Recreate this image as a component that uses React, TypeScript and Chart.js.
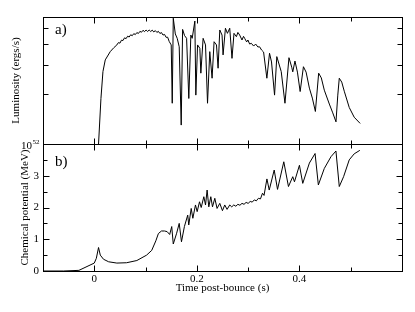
import React, { useEffect, useRef } from "react";
import { Chart, registerables } from "chart.js";

Chart.register(...registerables);

// ---- Data ----
// Panel a) luminosity, in units of 10^52 ergs/s
const timeLum = [
  0.0083, 0.013, 0.0169, 0.0214, 0.0311, 0.038, 0.044, 0.047, 0.05, 0.053,
  0.056, 0.059, 0.062, 0.065, 0.068, 0.071, 0.074, 0.077, 0.08, 0.083,
  0.086, 0.089, 0.092, 0.095, 0.098, 0.101, 0.104, 0.107, 0.11, 0.113,
  0.116, 0.119, 0.122, 0.125, 0.128, 0.131, 0.134, 0.137, 0.14, 0.143,
  0.146, 0.15, 0.152, 0.154, 0.158, 0.1617, 0.1656, 0.1695, 0.1722, 0.176,
  0.18, 0.1843, 0.1883, 0.1909, 0.1961, 0.198, 0.2014, 0.2058, 0.2078, 0.2122,
  0.2169, 0.2208, 0.2252, 0.2297, 0.2336, 0.2383, 0.2414, 0.2447, 0.2491, 0.2511,
  0.2557, 0.2596, 0.2641, 0.2685, 0.2724, 0.2771, 0.28, 0.2835, 0.288, 0.291,
  0.2932, 0.2971, 0.2996, 0.3029, 0.3062, 0.3107, 0.3146, 0.319, 0.3223, 0.3262,
  0.3301, 0.3365, 0.3417, 0.3456, 0.3515, 0.3559, 0.3645, 0.3718, 0.3796, 0.385,
  0.387, 0.3913, 0.3961, 0.4014, 0.4078, 0.413, 0.4194, 0.4252, 0.4311, 0.4375,
  0.4427, 0.4485, 0.4583, 0.465, 0.4713, 0.4748, 0.4777, 0.4825, 0.4874, 0.4971,
  0.5068, 0.5184,
];
const lumE52 = [
  1.0, 1.88, 2.73, 3.21, 3.6, 3.8, 3.95, 4.08, 4.05, 4.22,
  4.2, 4.36, 4.31, 4.46, 4.41, 4.55, 4.49, 4.62, 4.56, 4.69,
  4.63, 4.77, 4.71, 4.84, 4.75, 4.86, 4.76, 4.86, 4.76, 4.85,
  4.73, 4.82, 4.7, 4.77, 4.63, 4.69, 4.53, 4.57, 4.39, 4.4,
  4.15, 3.95, 1.76, 5.72, 4.6, 4.33, 3.85, 1.3, 4.9, 4.5,
  4.33, 1.88, 4.53, 4.33, 5.5, 1.97, 3.95, 3.77, 2.67, 4.33,
  3.95, 1.76, 3.6, 2.49, 4.13, 3.95, 2.86, 4.86, 4.53, 3.44,
  4.98, 4.64, 4.98, 3.28, 4.64, 4.43, 4.7, 4.53, 4.23, 4.45,
  4.33, 4.12, 4.23, 4.0, 4.04, 3.89, 4.0, 3.84, 3.85, 3.68,
  3.58, 2.49, 3.52, 3.12, 1.97, 3.36, 2.73, 1.76, 3.31, 2.9,
  2.72, 3.16, 2.71, 2.07, 2.92, 2.71, 2.17, 1.89, 1.57, 2.67,
  2.5, 2.11, 1.74, 1.54, 1.36, 1.97, 2.49, 2.36, 2.08, 1.66,
  1.45, 1.33,
];

// Panel b) chemical potential (MeV)
const timeMu = [
  -0.1, -0.06, -0.03, 0.0, 0.004, 0.0083, 0.0117, 0.018, 0.028, 0.044,
  0.063, 0.083, 0.102, 0.112, 0.12, 0.125, 0.131, 0.137, 0.142, 0.147,
  0.151, 0.154, 0.1606, 0.1656, 0.17, 0.1757, 0.1822, 0.1842, 0.189, 0.1922,
  0.1973, 0.2006, 0.2052, 0.2085, 0.2136, 0.2169, 0.22, 0.2233, 0.2272, 0.2305,
  0.235, 0.2394, 0.2447, 0.2499, 0.2544, 0.2589, 0.2641, 0.268, 0.272, 0.276,
  0.28, 0.284, 0.288, 0.292, 0.296, 0.3, 0.304, 0.308, 0.312, 0.316,
  0.32, 0.324, 0.328, 0.331, 0.3366, 0.3411, 0.3508, 0.3573, 0.3695, 0.3786,
  0.387, 0.3903, 0.4, 0.4065, 0.4194, 0.4305, 0.4369, 0.4485, 0.4615, 0.4712,
  0.4777, 0.4861, 0.4971, 0.5068, 0.5178,
];
const chemPot = [
  0.0, 0.0, 0.02, 0.25, 0.4, 0.74, 0.5, 0.37, 0.29, 0.25,
  0.26, 0.33, 0.5, 0.65, 0.95, 1.18, 1.26, 1.26, 1.24, 1.15,
  1.4, 0.85, 1.19, 1.5, 0.92, 1.4, 1.76, 1.45, 1.97, 1.66,
  2.08, 1.87, 2.18, 2.0, 2.34, 2.08, 2.55, 2.02, 2.34, 2.02,
  2.29, 1.97, 2.13, 1.9, 2.08, 1.94, 2.08, 2.02, 2.08, 2.04,
  2.1, 2.07, 2.13, 2.1, 2.16, 2.13, 2.19, 2.17, 2.24, 2.21,
  2.29, 2.27, 2.45, 2.38, 2.9, 2.55, 3.18, 2.57, 3.44, 2.66,
  2.97, 2.81, 3.33, 2.76, 3.4, 3.7, 2.71, 3.23, 3.6, 3.78,
  2.66, 2.97, 3.5, 3.69, 3.8,
];

// Axis ticks
const xMajorTicks = [0, 0.2, 0.4];
const xMinorTicks = [0.1, 0.3, 0.5];
const lumMinorTicks = [2, 3, 4, 5];
const muMajorTicks = [0, 1, 2, 3];
const muMinorTicks = [0.5, 1.5, 2.5, 3.5];

const SERIF = "'Liberation Serif', 'Times New Roman', serif";
const FONT = { family: SERIF, size: 11 };

const framePlugin = {
  id: "framePlugin",
  afterDraw(chart: any) {
    const ctx = chart.ctx;
    const xs = chart.scales.x;
    const yL = chart.scales.yL;
    const yC = chart.scales.yC;
    const left = chart.chartArea.left;
    const right = chart.chartArea.right;
    const px = (v: number) => Math.round(v) + 0.5;
    ctx.save();
    ctx.strokeStyle = "#000";
    ctx.lineWidth = 1;
    const panels = [yL, yC];
    for (const p of panels) {
      const top = p.top;
      const bottom = p.bottom;
      ctx.strokeRect(px(left), px(top), Math.round(right) - Math.round(left), Math.round(bottom) - Math.round(top));
      ctx.beginPath();
      const xt = (vals: number[], len: number) => {
        for (const v of vals) {
          const xp = px(xs.getPixelForValue(v));
          ctx.moveTo(xp, px(top));
          ctx.lineTo(xp, px(top) + len);
          ctx.moveTo(xp, px(bottom));
          ctx.lineTo(xp, px(bottom) - len);
        }
      };
      xt(xMajorTicks, 6);
      xt(xMinorTicks, 4);
      const yt = (vals: number[], len: number) => {
        for (const v of vals) {
          const yp = px(p.getPixelForValue(v));
          ctx.moveTo(px(left), yp);
          ctx.lineTo(px(left) + len, yp);
          ctx.moveTo(px(right), yp);
          ctx.lineTo(px(right) - len, yp);
        }
      };
      if (p === yL) {
        yt(lumMinorTicks, 5);
      } else {
        yt(muMajorTicks, 6);
        yt(muMinorTicks, 4);
      }
      ctx.stroke();
    }
    // 10^52 label
    ctx.fillStyle = "#000";
    ctx.textAlign = "right";
    ctx.textBaseline = "alphabetic";
    const yb = yL.getPixelForValue(1);
    ctx.font = `7px ${SERIF}`;
    const supW = ctx.measureText("52").width;
    ctx.fillText("52", 39.5, yb);
    ctx.font = `11px ${SERIF}`;
    ctx.fillText("10", 39.5 - supW - 0.5, yb + 4.5);
    // panel labels
    ctx.textAlign = "left";
    ctx.font = `15px ${SERIF}`;
    ctx.fillText("a)", left + 12, yL.top + 17);
    ctx.fillText("b)", left + 12, yC.top + 22);
    ctx.restore();
  },
};

export default function App() {
  const canvasRef = useRef<HTMLCanvasElement | null>(null);

  useEffect(() => {
    const canvas = canvasRef.current;
    if (!canvas) return;
    Chart.defaults.color = "#000";
    const chart = new Chart(canvas, {
      type: "line",
      data: {
        datasets: [
          {
            label: "Luminosity",
            data: timeLum.map((t, i) => ({ x: t, y: lumE52[i] })),
            xAxisID: "x",
            yAxisID: "yL",
            borderColor: "#000",
            borderWidth: 1,
            pointRadius: 0,
            tension: 0,
            fill: false,
          },
          {
            label: "Chemical potential",
            data: timeMu.map((t, i) => ({ x: t, y: chemPot[i] })),
            xAxisID: "x",
            yAxisID: "yC",
            borderColor: "#000",
            borderWidth: 1,
            pointRadius: 0,
            tension: 0,
            fill: false,
          },
        ],
      },
      options: {
        responsive: false,
        maintainAspectRatio: false,
        animation: false,
        events: [],
        layout: { padding: { left: 0, top: 17, right: 13, bottom: 0 } },
        plugins: { legend: { display: false }, tooltip: { enabled: false } },
        scales: {
          x: {
            type: "linear",
            position: "bottom",
            min: -0.1,
            max: 0.6,
            grid: { display: false, drawTicks: false },
            border: { display: false },
            afterBuildTicks: (s: any) => {
              s.ticks = xMajorTicks.map((v) => ({ value: v }));
            },
            afterFit: (s: any) => {
              s.height = 41;
            },
            ticks: {
              padding: 2,
              font: FONT,
              color: "#000",
              maxRotation: 0,
              callback: (v: any) => String(Math.round(Number(v) * 10) / 10),
            },
            title: {
              display: true,
              text: "Time post-bounce (s)",
              font: FONT,
              color: "#000",
              padding: { top: 0, bottom: 17 },
            },
          },
          yC: {
            type: "linear",
            position: "left",
            stack: "panels",
            stackWeight: 1,
            min: 0,
            max: 4,
            grid: { display: false, drawTicks: false },
            border: { display: false },
            afterBuildTicks: (s: any) => {
              s.ticks = muMajorTicks.map((v) => ({ value: v }));
            },
            afterFit: (s: any) => {
              s.width = 43;
            },
            ticks: { padding: 4, font: FONT, color: "#000", callback: (v: any) => String(v) },
            title: {
              display: true,
              text: "Chemical potential (MeV)",
              font: FONT,
              color: "#000",
              padding: { top: 19, bottom: 0 },
            },
          },
          yL: {
            type: "logarithmic",
            position: "left",
            stack: "panels",
            stackWeight: 1,
            min: 1,
            max: 5.82,
            grid: { display: false, drawTicks: false },
            border: { display: false },
            afterBuildTicks: (s: any) => {
              s.ticks = [{ value: 1 }];
            },
            afterFit: (s: any) => {
              s.width = 43;
            },
            ticks: { padding: 4, font: FONT, color: "#000", callback: () => "" },
            title: {
              display: true,
              text: "Luminosity (ergs/s)",
              font: FONT,
              color: "#000",
              padding: { top: 10, bottom: 0 },
            },
          },
        },
      },
      plugins: [framePlugin],
    } as any);
    return () => chart.destroy();
  }, []);

  return (
    <div style={{ position: "absolute", left: 0, top: 0, width: 415, height: 312, background: "#fff" }}>
      <canvas ref={canvasRef} width={415} height={312} style={{ display: "block" }} />
    </div>
  );
}
